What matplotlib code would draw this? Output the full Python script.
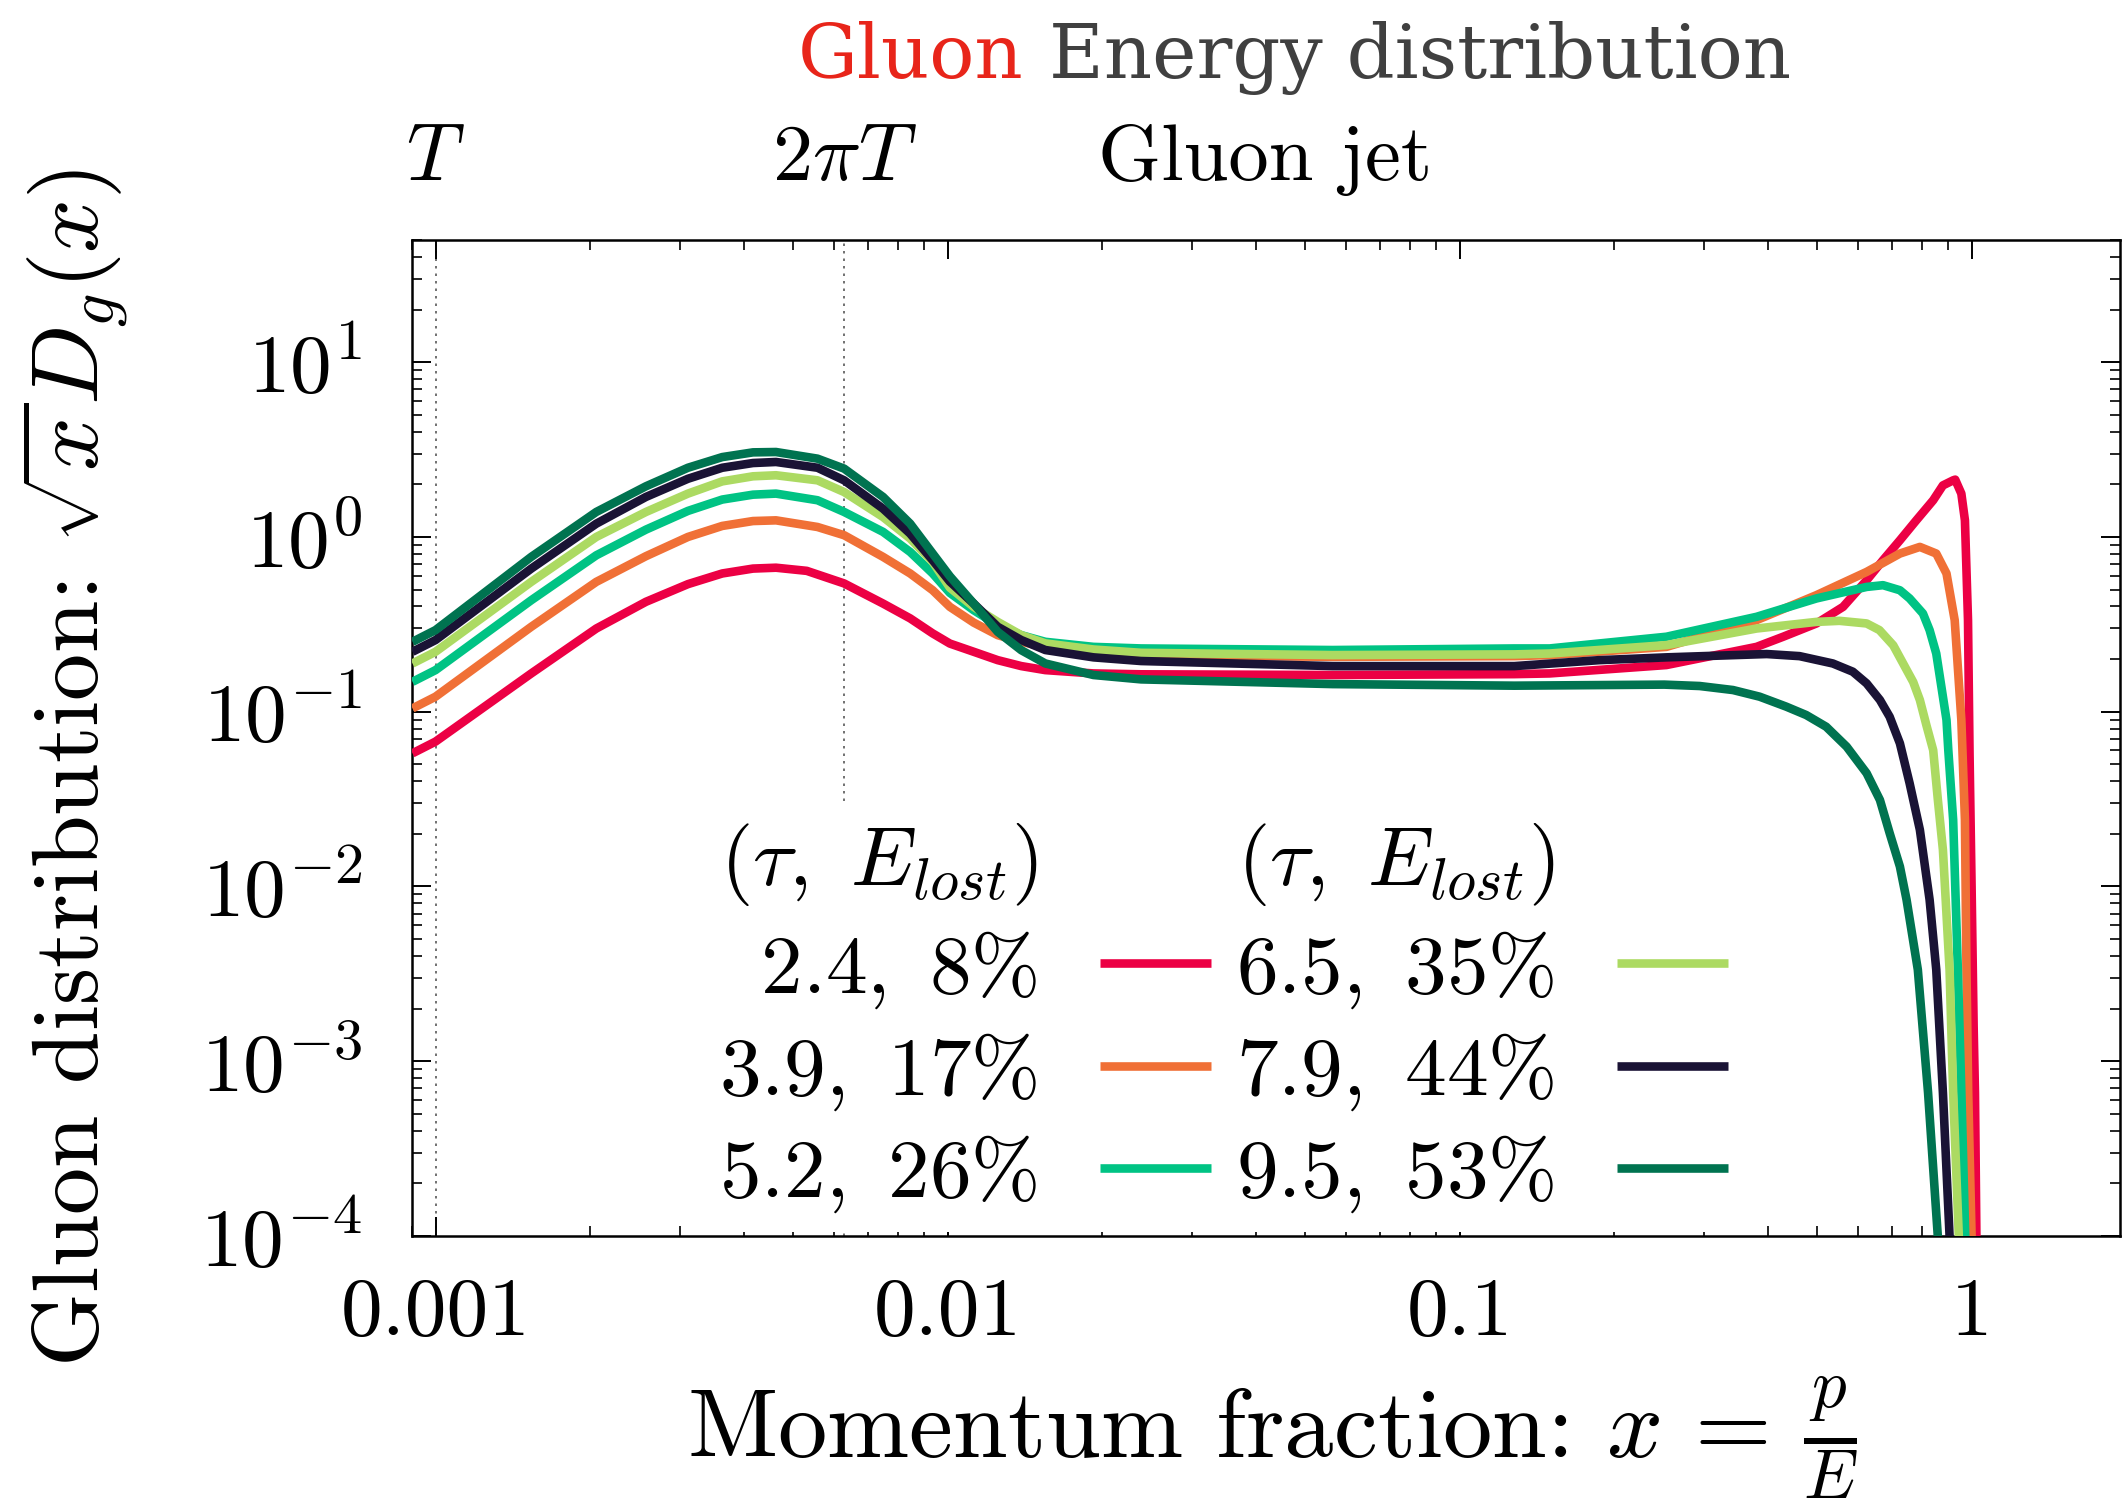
import numpy as np
import matplotlib
matplotlib.use('Agg')
import matplotlib.pyplot as plt
from matplotlib.lines import Line2D
from matplotlib.ticker import LogLocator, NullFormatter

plt.rcParams['font.family'] = 'cmr10'
plt.rcParams['mathtext.fontset'] = 'cm'
plt.rcParams['axes.formatter.use_mathtext'] = True

# values, stored as log10(x) and log10(y)
lx_24 = [-3.045, -3.0, -2.813, -2.686, -2.589, -2.507, -2.44, -2.38, -2.335, -2.275,
         -2.202, -2.126, -2.073, -2.029, -1.9955, -1.949, -1.902, -1.856, -1.809, -1.715,
         -1.622, -1.248, -0.893, -0.824, -0.596, -0.42, -0.368, -0.303, -0.251, -0.205,
         -0.173, -0.14, -0.108, -0.075, -0.056, -0.036, -0.032, -0.020, -0.013, -0.010,
         -0.007, -0.004, 0.0, 0.004, 0.0066, 0.0094, 0.011]
ly_24 = [-1.238, -1.171, -0.781, -0.524, -0.371, -0.270, -0.209, -0.181, -0.176, -0.194,
         -0.266, -0.381, -0.466, -0.552, -0.61, -0.657, -0.705, -0.739, -0.762, -0.781,
         -0.786, -0.79, -0.785, -0.781, -0.733, -0.629, -0.571, -0.495, -0.4, -0.248,
         -0.133, -0.019, 0.095, 0.21, 0.295, 0.324, 0.328, 0.248, 0.095, -0.19,
         -0.476, -1.238, -2.0, -2.8, -3.18, -4.0, -4.4]

lx_39 = [-3.045, -3.0, -2.813, -2.686, -2.589, -2.507, -2.44, -2.38, -2.335, -2.254,
         -2.202, -2.126, -2.073, -2.029, -1.9955, -1.949, -1.902, -1.856, -1.809, -1.715,
         -1.622, -1.248, -0.893, -0.824, -0.596, -0.42, -0.303, -0.205, -0.14, -0.101,
         -0.069, -0.049, -0.033, -0.020, -0.013, -0.010, -0.0066, 0.0, 0.002]
ly_39 = [-0.981, -0.914, -0.514, -0.257, -0.110, 0.0, 0.063, 0.091, 0.095, 0.057,
         0.010, -0.114, -0.209, -0.305, -0.40, -0.49, -0.562, -0.6, -0.629, -0.663,
         -0.676, -0.686, -0.682, -0.676, -0.629, -0.476, -0.333, -0.2, -0.095, -0.057,
         -0.095, -0.209, -0.476, -1.047, -1.619, -2.476, -3.18, -4.0, -4.4]

lx_52 = [-3.045, -3.0, -2.813, -2.686, -2.589, -2.507, -2.44, -2.38, -2.335, -2.254,
         -2.202, -2.126, -2.073, -2.029, -1.9955, -1.949, -1.902, -1.856, -1.809, -1.715,
         -1.622, -1.248, -0.893, -0.824, -0.596, -0.42, -0.303, -0.205, -0.173, -0.14,
         -0.121, -0.095, -0.082, -0.069, -0.049, -0.0455, -0.036, -0.0268, -0.020, -0.0124,
         -0.009]
ly_52 = [-0.829, -0.762, -0.362, -0.105, 0.042, 0.149, 0.214, 0.242, 0.248, 0.210,
         0.143, 0.029, -0.086, -0.209, -0.32, -0.419, -0.505, -0.562, -0.6, -0.629,
         -0.638, -0.647, -0.638, -0.638, -0.571, -0.457, -0.352, -0.286, -0.276, -0.305,
         -0.352, -0.438, -0.533, -0.667, -1.047, -1.219, -1.619, -2.476, -3.18, -4.0,
         -4.4]

lx_65 = [-3.045, -3.0, -2.813, -2.686, -2.589, -2.507, -2.44, -2.38, -2.335, -2.254,
         -2.202, -2.126, -2.073, -2.029, -1.9955, -1.949, -1.902, -1.856, -1.809, -1.715,
         -1.622, -1.248, -0.893, -0.824, -0.596, -0.42, -0.303, -0.258, -0.205, -0.180,
         -0.153, -0.114, -0.101, -0.088, -0.075, -0.066, -0.056, -0.043, -0.036, -0.025,
         -0.02]
ly_65 = [-0.724, -0.657, -0.257, 0.0, 0.143, 0.248, 0.318, 0.347, 0.353, 0.324,
         0.257, 0.114, -0.009, -0.143, -0.29, -0.4, -0.486, -0.562, -0.609, -0.644,
         -0.663, -0.676, -0.672, -0.667, -0.619, -0.524, -0.486, -0.48, -0.495, -0.533,
         -0.62, -0.83, -0.933, -1.08, -1.22, -1.5, -1.79, -2.476, -3.18, -4.0,
         -4.4]

lx_79 = [-3.045, -3.0, -2.813, -2.686, -2.589, -2.507, -2.44, -2.38, -2.335, -2.254,
         -2.202, -2.126, -2.073, -2.029, -1.9955, -1.949, -1.902, -1.856, -1.809, -1.715,
         -1.622, -1.248, -0.893, -0.727, -0.596, -0.40, -0.336, -0.271, -0.232, -0.205,
         -0.179, -0.16, -0.140, -0.121, -0.101, -0.082, -0.069, -0.056, -0.043, -0.038]
ly_79 = [-0.657, -0.59, -0.181, 0.076, 0.229, 0.333, 0.396, 0.423, 0.429, 0.396,
         0.324, 0.162, 0.019, -0.133, -0.255, -0.381, -0.514, -0.59, -0.647, -0.689,
         -0.71, -0.739, -0.739, -0.705, -0.689, -0.670, -0.682, -0.724, -0.771, -0.838,
         -0.933, -1.029, -1.181, -1.41, -1.676, -2.076, -2.476, -3.18, -4.0, -4.4]

lx_95 = [-3.045, -3.0, -2.813, -2.686, -2.589, -2.507, -2.44, -2.38, -2.335, -2.254,
         -2.202, -2.126, -2.073, -2.029, -1.9955, -1.949, -1.902, -1.856, -1.809, -1.715,
         -1.622, -1.248, -0.893, -0.6, -0.531, -0.466, -0.414, -0.362, -0.323, -0.284,
         -0.244, -0.205, -0.179, -0.160, -0.140, -0.127, -0.105, -0.085, -0.066, -0.06]
ly_95 = [-0.6, -0.533, -0.114, 0.143, 0.29, 0.396, 0.457, 0.484, 0.486, 0.448,
         0.391, 0.229, 0.076, -0.095, -0.225, -0.381, -0.543, -0.648, -0.724, -0.79,
         -0.815, -0.842, -0.851, -0.845, -0.853, -0.876, -0.914, -0.971, -1.019, -1.086,
         -1.2, -1.352, -1.505, -1.695, -1.886, -2.076, -2.476, -3.18, -4.0, -4.4]

taus = ['2.4', '3.9', '5.2', '6.5', '7.9', '9.5']
elost = ['8', '17', '26', '35', '44', '53']
colors = ['#ec0044', '#f07036', '#00c384', '#acda62', '#1a1335', '#007350']
curves = [(lx_24, ly_24), (lx_39, ly_39), (lx_52, ly_52), (lx_65, ly_65), (lx_79, ly_79), (lx_95, ly_95)]

T = 0.001
fs = 60

fig = plt.figure(figsize=(21.22, 15.04), dpi=100)
ax = fig.add_axes([0.1942, 0.1782, 0.8049, 0.6622])

ax.axvline(T, color='0.35', ls=(0, (1.5, 3)), lw=1.2, zorder=1)
ax.axvline(2 * np.pi * T, color='0.35', ls=(0, (1.5, 3)), lw=1.2, zorder=1)

lines = []
for (lx, ly), c in zip(curves, colors):
    l, = ax.plot(10 ** np.array(lx), 10 ** np.array(ly), color=c, lw=6.2,
                 solid_joinstyle='round', solid_capstyle='butt', zorder=3)
    lines.append(l)

ax.set_xscale('log')
ax.set_yscale('log')
ax.set_xlim(0.0009, 1.95)
ax.set_ylim(1e-4, 50)

ax.set_xticks([0.001, 0.01, 0.1, 1], labels=['0.001', '0.01', '0.1', '1'])
ax.xaxis.set_minor_locator(LogLocator(base=10, subs=np.arange(2, 10) * 1.0, numticks=50))
ax.xaxis.set_minor_formatter(NullFormatter())
ax.yaxis.set_major_locator(LogLocator(base=10, numticks=20))
ax.yaxis.set_minor_locator(LogLocator(base=10, subs=np.arange(2, 10) * 1.0, numticks=50))
ax.yaxis.set_minor_formatter(NullFormatter())

ax.tick_params(which='both', direction='in', top=True, right=True, labelsize=fs)
ax.tick_params(which='major', length=13.5, width=1.4)
ax.tick_params(which='minor', length=7, width=1.2)
ax.tick_params(axis='x', which='major', pad=30)
ax.tick_params(axis='y', which='major', pad=36)
for s in ax.spines.values():
    s.set_linewidth(1.8)

ax.set_xlabel(r'Momentum fraction: $x\,=\,\frac{p}{E}$', fontsize=71)
ax.set_ylabel(r'Gluon distribution: $\sqrt{x}D_g(x)$', fontsize=68)
ax.xaxis.set_label_coords(0.5035, -0.139)
ax.yaxis.set_label_coords(-0.165, 0.47)

# labels above the plot
top = ax.get_xaxis_transform()
ax.text(T, 1.06, r'$T$', transform=top, ha='center', va='baseline', fontsize=58)
ax.text(2 * np.pi * T, 1.06, r'$2\pi T$', transform=top, ha='center', va='baseline', fontsize=58)
ax.text(0.0197, 1.06, 'Gluon jet', transform=top, ha='left', va='baseline', fontsize=58)

fig.text(1024 / 2122, 0.948, 'Gluon', color='#e8251a', ha='right', va='baseline',
         fontsize=54, family='DejaVu Serif')
fig.text(1049 / 2122, 0.948, 'Energy distribution', color='#404040', ha='left', va='baseline',
         fontsize=54, family='DejaVu Serif')

# legend: two columns, header row on each
hdr = Line2D([], [], color='none')
labels = []
for t, e in zip(taus, elost):
    pad = r'\enspace' if len(e) == 1 else ''
    labels.append(r'$' + pad + t + r',\ ' + e + r'\%$')
header = r'$(\tau,\ E_{lost})$'
handles = [hdr] + lines[:3] + [hdr] + lines[3:]
texts = [header] + labels[:3] + [header] + labels[3:]
leg = ax.legend(handles, texts, ncol=2, loc='lower left', bbox_to_anchor=(0.17, 0.004),
                fontsize=fs, markerfirst=False, handlelength=1.33, handletextpad=0.75,
                columnspacing=0.3, labelspacing=0.25, borderpad=0.2, borderaxespad=0,
                frameon=True, fancybox=False)
leg.get_frame().set_edgecolor('none')
leg.get_frame().set_facecolor('white')
leg.get_frame().set_alpha(1)

fig.savefig('out.png', dpi=100)
